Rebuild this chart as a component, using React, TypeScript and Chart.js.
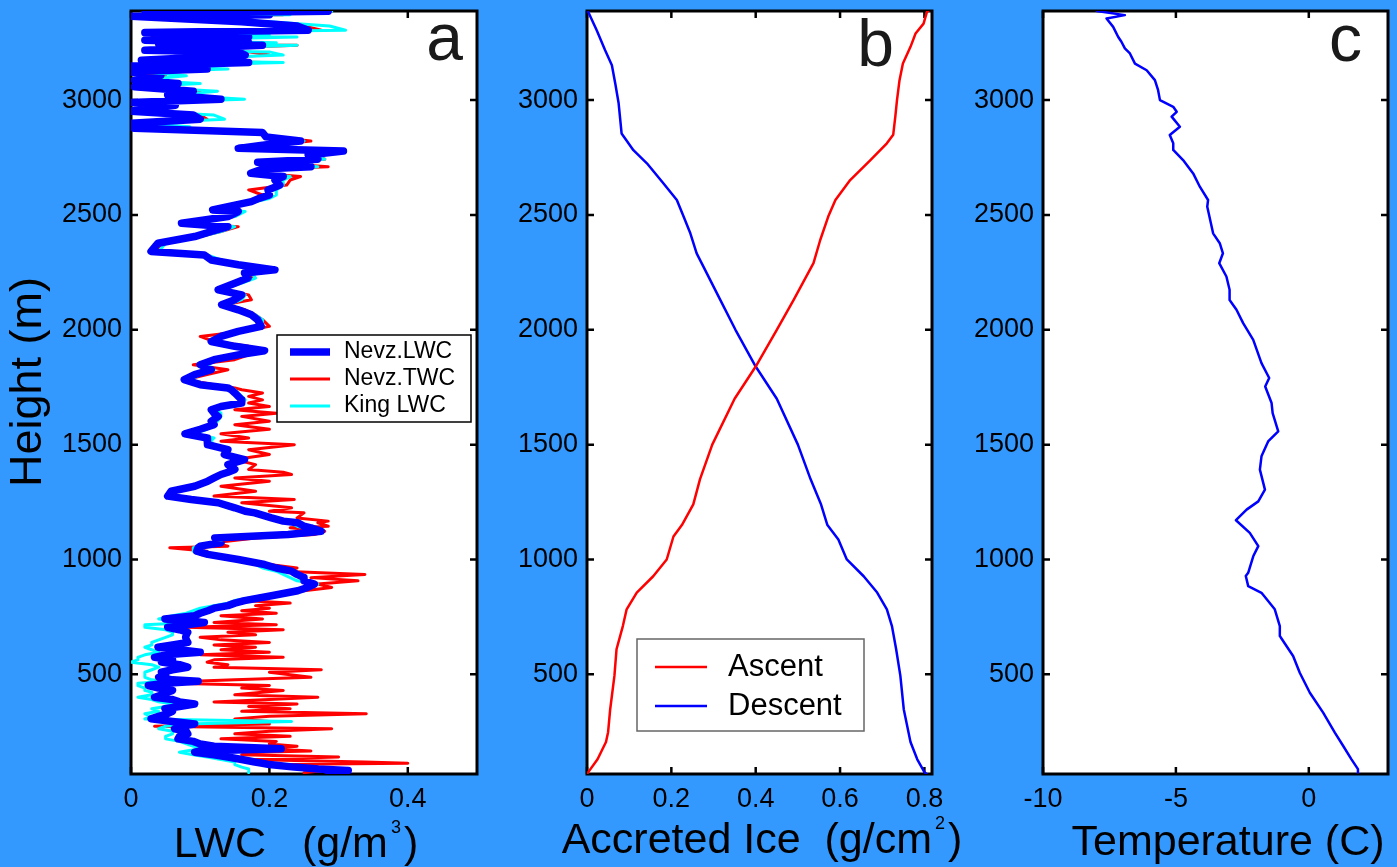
import { useEffect, useRef } from "react";
import { Chart, registerables } from "chart.js";

Chart.register(...registerables);

const FONT = '"Liberation Sans", Arial, Helvetica, sans-serif';
const PAGE_BG = "#3399ff";

// ---------- shared height axis ----------
const heightMin = 66;
const heightMax = 3388;
const heightTicks = [500, 1000, 1500, 2000, 2500, 3000];

// ---------- panel a : LWC profiles ----------
const lwcTicks = [0, 0.2, 0.4];
const lwcHeights = [
  3392, 3387, 3378, 3372, 3365, 3341, 3323, 3304, 3294, 3284, 3280, 3275, 3261, 3250, 3245, 3239,
  3217, 3210, 3196, 3174, 3164, 3149, 3135, 3123, 3106, 3087,
  3072, 3058, 3039, 3022, 3004, 2990, 2978, 2952, 2935, 2917,
  2899, 2884, 2877, 2859, 2840, 2822, 2804, 2790, 2778, 2761,
  2743, 2729, 2710, 2700, 2681, 2667, 2652, 2630, 2609, 2587,
  2572, 2558, 2522, 2515, 2493, 2478, 2464, 2449, 2428, 2406,
  2377, 2341, 2326, 2304, 2283, 2261, 2247, 2225, 2203, 2174,
  2152, 2131, 2109, 2087, 2065, 2044, 2015, 1993, 1971, 1949,
  1928, 1909, 1891, 1870, 1848, 1826, 1805, 1783, 1761, 1747,
  1739, 1725, 1710, 1695, 1681, 1666, 1652, 1637, 1623, 1602,
  1587, 1567, 1547, 1529, 1515, 1500, 1478, 1457, 1435, 1413,
  1392, 1380, 1370, 1355, 1341, 1319, 1297, 1276, 1261, 1247,
  1225, 1210, 1203, 1181, 1167, 1160, 1145, 1138, 1123, 1109,
  1094, 1073, 1058, 1051, 1036, 1022, 1000, 978, 963, 949,
  935, 921, 907, 893, 878, 864, 842, 821, 810, 799,
  788, 777, 766, 755, 741, 726, 716, 705, 694, 683,
  672, 661, 650, 639, 628, 618, 607, 596, 585, 574,
  563, 553, 542, 531, 520, 509, 498, 487, 476, 470,
  461, 451, 440, 430, 422, 411, 400, 390, 380, 371,
  360, 350, 339, 328, 317, 306, 295, 284, 274, 263,
  252, 241, 230, 219, 208, 197, 187, 176, 166, 161,
  150, 140, 129, 118, 113, 107, 96, 88, 81, 72,
];
const nevzLWC = [
  0.02, 0.285, 0.05, 0.2, 0, 0.16, 0.24, 0.256, 0.02, 0.16, 0.03, 0.17, 0.02, 0.17, 0.04, 0.19,
  0.02, 0.155, 0.165, 0.015, 0.17, 0, 0.11, 0, 0.043, 0.005,
  0.068, 0.005, 0.09, 0.053, 0.13, 0, 0.064, 0, 0.09, 0.1,
  0, 0.005, 0.005, 0.19, 0.195, 0.245, 0.19, 0.155, 0.307, 0.256,
  0.27, 0.183, 0.26, 0.19, 0.173, 0.22, 0.208, 0.215, 0.198, 0.2,
  0.185, 0.174, 0.118, 0.155, 0.14, 0.106, 0.073, 0.14, 0.116, 0.092,
  0.039, 0.029, 0.106, 0.116, 0.155, 0.208, 0.164, 0.169, 0.15, 0.126,
  0.16, 0.15, 0.131, 0.155, 0.174, 0.183, 0.188, 0.155, 0.13, 0.116,
  0.15, 0.193, 0.155, 0.12, 0.1, 0.116, 0.092, 0.077, 0.1, 0.14,
  0.145, 0.15, 0.155, 0.16, 0.16, 0.13, 0.116, 0.12, 0.126, 0.116,
  0.12, 0.1, 0.078, 0.11, 0.11, 0.111, 0.14, 0.135, 0.164, 0.14,
  0.15, 0.14, 0.13, 0.12, 0.111, 0.092, 0.058, 0.053, 0.087, 0.126,
  0.15, 0.165, 0.179, 0.203, 0.22, 0.241, 0.25, 0.26, 0.275, 0.227,
  0.121, 0.13, 0.1, 0.097, 0.095, 0.111, 0.155, 0.193, 0.21, 0.232,
  0.24, 0.25, 0.25, 0.265, 0.255, 0.241, 0.203, 0.164, 0.15, 0.14,
  0.12, 0.111, 0.1, 0.092, 0.049, 0.106, 0.08, 0.053, 0.07, 0.082,
  0.08, 0.079, 0.08, 0.082, 0.06, 0.039, 0.07, 0.1, 0.05, 0.034,
  0.06, 0.044, 0.07, 0.082, 0.06, 0.044, 0.05, 0.04, 0.06, 0.097,
  0.05, 0.025, 0.04, 0.06, 0.053, 0.045, 0.034, 0.06, 0.07, 0.092,
  0.07, 0.049, 0.06, 0.052, 0.04, 0.029, 0.06, 0.092, 0.07, 0.063,
  0.08, 0.082, 0.07, 0.068, 0.09, 0.1, 0.12, 0.217, 0.1, 0.092,
  0.12, 0.14, 0.16, 0.179, 0.19, 0.2, 0.236, 0.27, 0.314, 0.285,
];
const kingLWC = [
  0.03, 0.29, 0.06, 0.23, 0.01, 0.2, 0.287, 0.31, 0.03, 0.2, 0.04, 0.24, 0.03, 0.21, 0.05, 0.24,
  0.03, 0.2, 0.22, 0.02, 0.22, 0.01, 0.14, 0.01, 0.08, 0.01,
  0.1, 0.01, 0.125, 0.06, 0.164, 0.01, 0.05, 0.01, 0.12, 0.135,
  0.01, 0.085, 0.01, 0.19, 0.2, 0.25, 0.19, 0.16, 0.3, 0.26,
  0.28, 0.19, 0.27, 0.2, 0.18, 0.23, 0.22, 0.22, 0.21, 0.21,
  0.2, 0.18, 0.13, 0.165, 0.15, 0.11, 0.08, 0.15, 0.13, 0.1,
  0.05, 0.04, 0.11, 0.13, 0.16, 0.21, 0.175, 0.18, 0.16, 0.13,
  0.165, 0.16, 0.14, 0.16, 0.18, 0.19, 0.19, 0.16, 0.13, 0.12,
  0.155, 0.19, 0.16, 0.125, 0.11, 0.12, 0.1, 0.085, 0.11, 0.145,
  0.15, 0.155, 0.16, 0.165, 0.16, 0.14, 0.12, 0.13, 0.13, 0.125,
  0.12, 0.11, 0.09, 0.12, 0.115, 0.12, 0.14, 0.135, 0.16, 0.14,
  0.15, 0.14, 0.13, 0.12, 0.11, 0.09, 0.06, 0.06, 0.09, 0.12,
  0.14, 0.16, 0.17, 0.2, 0.21, 0.23, 0.24, 0.25, 0.26, 0.22,
  0.13, 0.13, 0.1, 0.09, 0.09, 0.11, 0.15, 0.18, 0.19, 0.21,
  0.22, 0.23, 0.24, 0.27, 0.26, 0.25, 0.19, 0.15, 0.14, 0.12,
  0.1, 0.09, 0.08, 0.06, 0.04, 0.09, 0.02, 0.02, 0.05, 0.06,
  0.06, 0.05, 0.04, 0.03, 0.03, 0.02, 0.03, 0.04, 0.02, 0.01,
  0.01, 0, 0.03, 0.04, 0.03, 0.02, 0.02, 0.02, 0.03, 0.05,
  0.01, 0.01, 0.02, 0.02, 0.03, 0.03, 0.01, 0.03, 0.04, 0.06,
  0.05, 0.03, 0.04, 0.02, 0.03, 0.02, 0.232, 0.08, 0.05, 0.04,
  0.06, 0.06, 0.05, 0.05, 0.07, 0.08, 0.09, 0.1, 0.08, 0.07,
  0.09, 0.11, 0.13, 0.15, 0.15, 0.15, 0.16, 0.17, 0.17, 0.17,
];
const nevzTWC = [
  0.02, 0.28, 0.05, 0.22, 0, 0.18, 0.25, 0.275, 0.02, 0.18, 0.03, 0.2, 0.02, 0.19, 0.04, 0.24,
  0.03, 0.17, 0.2, 0.02, 0.19, 0, 0.12, 0, 0.05, 0.005,
  0.07, 0.005, 0.1, 0.055, 0.14, 0, 0.05, 0.03, 0.1, 0.11,
  0, 0.01, 0.01, 0.19, 0.2, 0.26, 0.2, 0.16, 0.31, 0.265,
  0.28, 0.19, 0.285, 0.2, 0.19, 0.245, 0.23, 0.225, 0.17, 0.19,
  0.19, 0.18, 0.12, 0.16, 0.15, 0.11, 0.08, 0.155, 0.13, 0.1,
  0.045, 0.035, 0.11, 0.125, 0.16, 0.2, 0.17, 0.175, 0.155, 0.13,
  0.17, 0.174, 0.135, 0.165, 0.18, 0.19, 0.2, 0.16, 0.1, 0.12,
  0.17, 0.19, 0.17, 0.15, 0.09, 0.14, 0.11, 0.08, 0.12, 0.15,
  0.16, 0.19, 0.17, 0.19, 0.17, 0.2, 0.15, 0.21, 0.16, 0.2,
  0.15, 0.2, 0.13, 0.17, 0.13, 0.236, 0.17, 0.2, 0.15, 0.18,
  0.17, 0.22, 0.232, 0.15, 0.2, 0.13, 0.18, 0.12, 0.236, 0.16,
  0.232, 0.2, 0.25, 0.24, 0.285, 0.27, 0.285, 0.23, 0.28, 0.265,
  0.18, 0.12, 0.14, 0.056, 0.11, 0.1, 0.16, 0.2, 0.24, 0.22,
  0.338, 0.26, 0.328, 0.27, 0.29, 0.25, 0.212, 0.16, 0.23, 0.18,
  0.2, 0.16, 0.21, 0.13, 0.19, 0.12, 0.21, 0.08, 0.22, 0.14,
  0.18, 0.1, 0.13, 0.2, 0.12, 0.18, 0.13, 0.2, 0.1, 0.22,
  0.12, 0.11, 0.14, 0.12, 0.275, 0.2, 0.23, 0.26, 0.15, 0.09,
  0.06, 0.2, 0.16, 0.22, 0.19, 0.15, 0.27, 0.2, 0.12, 0.24,
  0.17, 0.23, 0.16, 0.34, 0.2, 0.15, 0.2, 0.2, 0.034, 0.29,
  0.2, 0.15, 0.23, 0.13, 0.21, 0.2, 0.24, 0.2, 0.26, 0.18,
  0.16, 0.3, 0.17, 0.338, 0.4, 0.2, 0.27, 0.25, 0.28, 0.25,
];

// ---------- panel b : accreted ice ----------
const iceTicks = [0, 0.2, 0.4, 0.6, 0.8];
const ascentHeights = [
  66, 74, 130, 205, 248, 348, 493, 609, 710, 783,
  856, 927, 1000, 1100, 1150, 1240, 1350, 1500, 1700, 1840,
  2000, 2130, 2290, 2391, 2493, 2565, 2652, 2739, 2812, 2849,
  2928, 3000, 3087, 3159, 3232, 3290, 3333, 3384, 3390,
];
const ascentIce = [
  0, 0.003, 0.025, 0.045, 0.05, 0.055, 0.065, 0.07, 0.085, 0.094,
  0.118, 0.157, 0.189, 0.205, 0.225, 0.252, 0.268, 0.297, 0.35, 0.4,
  0.45, 0.49, 0.537, 0.553, 0.572, 0.589, 0.624, 0.672, 0.711, 0.726,
  0.731, 0.735, 0.741, 0.749, 0.767, 0.779, 0.798, 0.806, 0.81,
];
const descentHeights = [
  66, 74, 130, 205, 348, 493, 609, 710, 783, 856,
  927, 1000, 1087, 1150, 1239, 1350, 1500, 1700, 1840, 2000,
  2130, 2275, 2333, 2420, 2493, 2565, 2638, 2725, 2782, 2855,
  2986, 3072, 3152, 3217, 3304, 3384, 3390,
];
const descentIce = [
  0.805, 0.8, 0.783, 0.767, 0.751, 0.743, 0.733, 0.723, 0.711, 0.688,
  0.656, 0.616, 0.596, 0.57, 0.555, 0.53, 0.5, 0.45, 0.4, 0.352,
  0.316, 0.276, 0.26, 0.245, 0.229, 0.213, 0.181, 0.142, 0.11, 0.082,
  0.075, 0.067, 0.059, 0.043, 0.023, 0.003, 0,
];

// ---------- panel c : temperature ----------
const tempTicks = [-10, -5, 0];
const tempHeights = [
  3388, 3370, 3355, 3319, 3275, 3254, 3225, 3203, 3159, 3130,
  3087, 3043, 3000, 2971, 2949, 2928, 2884, 2848, 2812, 2783,
  2739, 2681, 2623, 2565, 2536, 2420, 2377, 2333, 2290, 2232,
  2174, 2130, 2087, 2029, 1956, 1855, 1790, 1753, 1681, 1637,
  1558, 1514, 1449, 1391, 1304, 1253, 1217, 1171, 1116, 1058,
  1014, 942, 928, 884, 855, 783, 710, 667, 580, 507,
  420, 333, 246, 189, 131, 87, 72,
];
const temperature = [
  -7.98, -6.92, -7.61, -7.36, -7.17, -7.05, -6.92, -6.73, -6.54, -6.1,
  -5.79, -5.67, -5.6, -5.1, -4.97, -5.16, -4.85, -5.23, -5.1, -5.1,
  -4.73, -4.35, -4.1, -3.79, -3.82, -3.6, -3.35, -3.23, -3.37, -3.1,
  -2.98, -2.98, -2.72, -2.47, -2.09, -1.78, -1.49, -1.64, -1.4, -1.36,
  -1.15, -1.53, -1.78, -1.84, -1.65, -1.9, -2.34, -2.74, -2.22, -1.9,
  -2.09, -2.28, -2.37, -2.28, -1.78, -1.28, -1.09, -1.09, -0.59, -0.34,
  0.04, 0.54, 0.98, 1.29, 1.6, 1.85, 1.85,
];

// ---------- helpers ----------
const pts = (hs: number[], vs: number[]) => hs.map((h, i) => ({ x: vs[i], y: h }));

const lineDs = (label: string, hs: number[], vs: number[], color: string, width: number) => ({
  label,
  data: pts(hs, vs),
  showLine: true,
  borderColor: color,
  backgroundColor: color,
  borderWidth: width,
  pointRadius: 0,
  tension: 0,
  fill: false,
  borderCapStyle: "round",
  borderJoinStyle: "round",
});

type Seg = { t: string; sup?: boolean };
type TitleSpec = { segs: Seg[]; x: number; y: number; size: number; rotate?: boolean };
type LegendSpec = {
  x: number; y: number; w: number; h: number; border: string; borderWidth: number;
  x1: number; x2: number; tx: number; rows: number[]; font: number; items: string[];
};
type PanelSpec = {
  left: number; width: number; yAxisWidth: number; padRight: number;
  xMin: number; xMax: number; xTicks: number[]; datasets: any[];
  letter: string; letterX: number; letterY: number;
  legend?: LegendSpec; titles: TitleSpec[];
};

function drawTitle(ctx: CanvasRenderingContext2D, t: TitleSpec, off: number) {
  ctx.save();
  ctx.fillStyle = "#000";
  const main = `${t.size}px ${FONT}`;
  const sup = `${Math.round(t.size * 0.42)}px ${FONT}`;
  if (t.rotate) {
    ctx.translate(t.x - off, t.y);
    ctx.rotate(-Math.PI / 2);
    ctx.font = main;
    ctx.textAlign = "center";
    ctx.textBaseline = "middle";
    ctx.fillText(t.segs.map((s) => s.t).join(""), 0, 0);
  } else {
    let total = 0;
    const widths = t.segs.map((s) => {
      ctx.font = s.sup ? sup : main;
      const w = ctx.measureText(s.t).width + (s.sup ? 6 : 0);
      total += w;
      return w;
    });
    let x = t.x - off - total / 2;
    ctx.textAlign = "left";
    ctx.textBaseline = "alphabetic";
    t.segs.forEach((s, i) => {
      ctx.font = s.sup ? sup : main;
      ctx.fillText(s.t, x + (s.sup ? 3 : 0), s.sup ? t.y - t.size * 0.56 : t.y);
      x += widths[i];
    });
  }
  ctx.restore();
}

function makeDecor(spec: PanelSpec) {
  const off = spec.left;
  return {
    id: "decor",
    beforeDraw(chart: any) {
      const { ctx, chartArea: a } = chart;
      ctx.save();
      ctx.fillStyle = "#ffffff";
      ctx.fillRect(a.left, a.top, a.right - a.left, a.bottom - a.top);
      ctx.restore();
    },
    beforeDatasetsDraw(chart: any) {
      const { ctx, chartArea: a, scales } = chart;
      const xs = scales.x;
      const ys = scales.y;
      const tl = 7;
      ctx.save();
      ctx.strokeStyle = "#000";
      ctx.lineWidth = 2.5;
      ctx.beginPath();
      xs.ticks.forEach((t: any) => {
        const p = xs.getPixelForValue(t.value);
        ctx.moveTo(p, a.bottom);
        ctx.lineTo(p, a.bottom - tl);
        ctx.moveTo(p, a.top);
        ctx.lineTo(p, a.top + tl);
      });
      ys.ticks.forEach((t: any) => {
        const p = ys.getPixelForValue(t.value);
        ctx.moveTo(a.left, p);
        ctx.lineTo(a.left + tl, p);
        ctx.moveTo(a.right, p);
        ctx.lineTo(a.right - tl, p);
      });
      ctx.stroke();
      ctx.lineWidth = 3;
      ctx.strokeRect(a.left, a.top, a.right - a.left, a.bottom - a.top);
      ctx.restore();
    },
    afterDraw(chart: any) {
      const { ctx } = chart;
      ctx.save();
      ctx.fillStyle = "#1a1a1a";
      ctx.font = `66px ${FONT}`;
      ctx.textAlign = "right";
      ctx.textBaseline = "alphabetic";
      ctx.fillText(spec.letter, spec.letterX - off, spec.letterY);
      const L = spec.legend;
      if (L) {
        ctx.fillStyle = "#ffffff";
        ctx.fillRect(L.x - off, L.y, L.w, L.h);
        ctx.strokeStyle = L.border;
        ctx.lineWidth = L.borderWidth;
        ctx.strokeRect(L.x - off, L.y, L.w, L.h);
        L.items.forEach((label, i) => {
          const ds = chart.data.datasets.find((d: any) => d.label === label);
          const y = L.rows[i];
          ctx.strokeStyle = ds.borderColor;
          ctx.lineWidth = ds.borderWidth;
          ctx.lineCap = "butt";
          ctx.beginPath();
          ctx.moveTo(L.x1 - off, y);
          ctx.lineTo(L.x2 - off, y);
          ctx.stroke();
          ctx.fillStyle = "#000";
          ctx.font = `${L.font}px ${FONT}`;
          ctx.textAlign = "left";
          ctx.textBaseline = "middle";
          ctx.fillText(label, L.tx - off, y);
        });
      }
      ctx.restore();
      spec.titles.forEach((t) => drawTitle(ctx, t, off));
    },
  };
}

const tickFont = { family: FONT, size: 27 };

function buildConfig(spec: PanelSpec): any {
  return {
    type: "scatter",
    data: { datasets: spec.datasets },
    options: {
      animation: false,
      responsive: false,
      maintainAspectRatio: false,
      events: [],
      layout: { autoPadding: false, padding: { left: 0, top: 11, right: spec.padRight, bottom: 0 } },
      plugins: { legend: { display: false }, tooltip: { enabled: false }, title: { display: false } },
      scales: {
        x: {
          type: "linear",
          position: "bottom",
          min: spec.xMin,
          max: spec.xMax,
          afterBuildTicks: (s: any) => {
            s.ticks = spec.xTicks.map((v) => ({ value: v }));
          },
          afterFit: (s: any) => {
            s.height = 93;
            s.paddingLeft = 0;
            s.paddingRight = 0;
          },
          grid: { display: false, drawTicks: false },
          border: { display: false },
          ticks: {
            padding: 9,
            color: "#000",
            font: tickFont,
            maxRotation: 0,
            minRotation: 0,
            autoSkip: false,
            callback: (v: any) => String(v),
          },
        },
        y: {
          type: "linear",
          position: "left",
          min: heightMin,
          max: heightMax,
          afterBuildTicks: (s: any) => {
            s.ticks = heightTicks.map((v) => ({ value: v }));
          },
          afterFit: (s: any) => {
            s.width = spec.yAxisWidth;
            s.paddingTop = 0;
            s.paddingBottom = 0;
          },
          grid: { display: false, drawTicks: false },
          border: { display: false },
          ticks: {
            padding: 9,
            color: "#000",
            font: tickFont,
            autoSkip: false,
            callback: (v: any) => String(v),
          },
        },
      },
    },
    plugins: [makeDecor(spec)],
  };
}

const panels: PanelSpec[] = [
  {
    left: 0, width: 490, yAxisWidth: 131, padRight: 13,
    xMin: 0, xMax: 0.5, xTicks: lwcTicks,
    datasets: [
      lineDs("Nevz.LWC", lwcHeights, nevzLWC, "#0000ff", 7.5),
      lineDs("King LWC", lwcHeights, kingLWC, "#00ffff", 3),
      lineDs("Nevz.TWC", lwcHeights, nevzTWC, "#ff0000", 3),
    ],
    letter: "a", letterX: 463, letterY: 60,
    legend: {
      x: 277, y: 335, w: 194, h: 87, border: "#000", borderWidth: 1.5,
      x1: 290, x2: 330, tx: 344, rows: [352, 379, 406], font: 23,
      items: ["Nevz.LWC", "Nevz.TWC", "King LWC"],
    },
    titles: [
      { segs: [{ t: "LWC   (g/m" }, { t: "3", sup: true }, { t: ")" }], x: 296, y: 857, size: 43 },
      { segs: [{ t: "Height (m)" }], x: 29, y: 382, size: 45, rotate: true },
    ],
  },
  {
    left: 490, width: 485, yAxisWidth: 97, padRight: 43,
    xMin: 0, xMax: 0.818, xTicks: iceTicks,
    datasets: [
      lineDs("Ascent", ascentHeights, ascentIce, "#ff0000", 2.5),
      lineDs("Descent", descentHeights, descentIce, "#0000ff", 2.5),
    ],
    letter: "b", letterX: 894, letterY: 66,
    legend: {
      x: 637, y: 639, w: 227, h: 92, border: "#666", borderWidth: 1.5,
      x1: 655, x2: 707, tx: 728, rows: [667, 706], font: 31,
      items: ["Ascent", "Descent"],
    },
    titles: [
      { segs: [{ t: "Accreted Ice  (g/cm" }, { t: "2", sup: true }, { t: ")" }], x: 762, y: 853, size: 43 },
    ],
  },
  {
    left: 965, width: 432, yAxisWidth: 78, padRight: 9,
    xMin: -10, xMax: 2.98, xTicks: tempTicks,
    datasets: [lineDs("Temperature", tempHeights, temperature, "#0000ff", 2.5)],
    letter: "c", letterX: 1362, letterY: 61,
    titles: [{ segs: [{ t: "Temperature (C)" }], x: 1228, y: 855, size: 43 }],
  },
];

export default function App() {
  const refA = useRef<HTMLCanvasElement | null>(null);
  const refB = useRef<HTMLCanvasElement | null>(null);
  const refC = useRef<HTMLCanvasElement | null>(null);

  useEffect(() => {
    const refs = [refA, refB, refC];
    const charts = panels.map((p, i) => new Chart(refs[i].current as HTMLCanvasElement, buildConfig(p)));
    return () => charts.forEach((c) => c.destroy());
  }, []);

  const refs = [refA, refB, refC];
  return (
    <div
      style={{
        position: "fixed",
        left: 0,
        top: 0,
        width: 1397,
        height: 867,
        background: PAGE_BG,
        overflow: "hidden",
      }}
    >
      {panels.map((p, i) => (
        <canvas
          key={i}
          ref={refs[i]}
          width={p.width}
          height={867}
          style={{ position: "absolute", left: p.left, top: 0, width: p.width, height: 867 }}
        />
      ))}
    </div>
  );
}
